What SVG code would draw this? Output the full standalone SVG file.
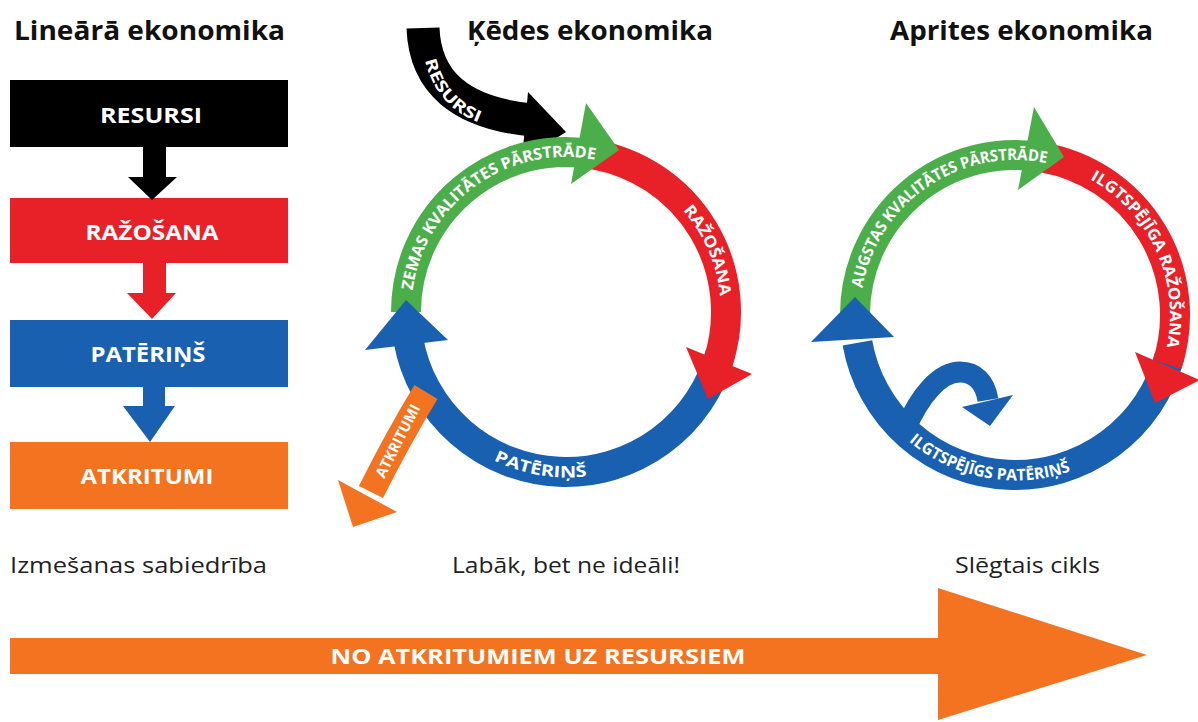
<svg xmlns="http://www.w3.org/2000/svg" xmlns:xlink="http://www.w3.org/1999/xlink" width="1198" height="722" viewBox="0 0 1198 722">
<style>
.t{font-family:"Open Sans","Liberation Sans",sans-serif;}
.title{font-size:27px;font-weight:700;fill:#111;}
.sub{font-size:21px;font-weight:400;fill:#222;}
.box{font-size:21px;font-weight:700;fill:#fff;text-anchor:middle;}
.ring{font-size:16px;font-weight:700;fill:#fff;}
.g{stroke:#4cae4a;}
.r{stroke:#e82129;}
.b{stroke:#1a60b0;}
.arc{fill:none;stroke-width:30;}
</style>
<defs>
<path id="mg" d="M 412.5 290.4 A 155 155 0 0 1 619 166.3"/>
<path id="mr" d="M 683 210.3 A 155 155 0 0 1 718.6 338.9"/>
<path id="mb" d="M 493.7 460.3 A 166 166 0 0 0 622.4 468"/>
<path id="rg" d="M 413.4 285.1 A 155 155 0 0 1 619 166.3"/>
<path id="rr" d="M 641.1 176.4 A 155 155 0 0 1 711.7 365"/>
<path id="rb" d="M 459.9 438.4 A 166 166 0 0 0 648.5 455.9"/>
<path id="res" d="M 425 60 Q 438 114 494 127"/>
</defs>
<rect width="1198" height="722" fill="#fff"/>

<g id="linear">
<text class="t title" x="14" y="40" textLength="271" lengthAdjust="spacingAndGlyphs">Lineārā ekonomika</text>
<g id="lin-resursi"><rect x="10" y="80" width="278" height="67" fill="#000"/><text class="t box" x="151" y="123" textLength="102" lengthAdjust="spacingAndGlyphs">RESURSI</text></g>
<g id="lin-razosana"><rect x="10" y="198" width="278" height="65" fill="#e82129"/><text class="t box" x="152" y="240" textLength="133" lengthAdjust="spacingAndGlyphs">RAŽOŠANA</text></g>
<g id="lin-pateri"><rect x="10" y="320" width="278" height="67" fill="#1a60b0"/><text class="t box" x="148" y="362" textLength="115" lengthAdjust="spacingAndGlyphs">PATĒRIŅŠ</text></g>
<g id="lin-atkritumi"><rect x="10" y="442" width="278" height="67" fill="#f37321"/><text class="t box" x="147" y="484" textLength="133" lengthAdjust="spacingAndGlyphs">ATKRITUMI</text></g>
<text class="t sub" x="10" y="573" textLength="257" lengthAdjust="spacingAndGlyphs">Izmešanas sabiedrība</text>
</g>

<g id="linear-connectors">
<polygon points="143,147 166,147 166,177 177,177 152,200 128,177 143,177" fill="#000"/>
<polygon points="143,263 166,263 166,293 176,293 152,319 127,293 143,293" fill="#e82129"/>
<polygon points="143,387 165,387 165,406 175,406 150,442 123,406 143,406" fill="#1a60b0"/>
</g>

<g id="chain">
<text class="t title" x="467" y="40" textLength="246" lengthAdjust="spacingAndGlyphs">Ķēdes ekonomika</text>
<g id="chain-resursi">
<path d="M 423 28 C 425 82 460 113 532 120" fill="none" stroke="#000" stroke-width="33"/>
<polygon points="528,92 566,132 522,160" fill="#000"/>
<text class="t" font-size="16" font-weight="700" fill="#fff"><textPath xlink:href="#res" textLength="86" lengthAdjust="spacingAndGlyphs">RESURSI</textPath></text>
</g>
<path class="arc b" d="M 720.5 353.4 A 160 160 0 0 1 408.4 339.8"/>
<path class="arc g" d="M 406 312 A 160 160 0 0 1 593.8 154.4"/>
<path class="arc r" d="M 593.8 154.4 A 160 160 0 0 1 718.2 361.4"/>
<g id="chain-atkritumi">
<path d="M 426 392 Q 398 438 371 492" fill="none" stroke="#f37321" stroke-width="27"/>
<polygon points="338,480 397,512 353,527" fill="#f37321"/>
<text class="t" x="398" y="446" font-size="15" font-weight="700" fill="#fff" text-anchor="middle" textLength="80" lengthAdjust="spacingAndGlyphs" transform="rotate(-63 398 441)">ATKRITUMI</text>
</g>
<polygon points="571,184 586,103 619,150" fill="#4cae4a"/>
<polygon points="686,347 752,374 708,399" fill="#e82129"/>
<polygon points="365,350 448,340 406,300" fill="#1a60b0"/>
<text class="t ring"><textPath xlink:href="#mg" textLength="251" lengthAdjust="spacingAndGlyphs">ZEMAS KVALITĀTES PĀRSTRĀDE</textPath></text>
<text class="t ring"><textPath xlink:href="#mr" textLength="95" lengthAdjust="spacingAndGlyphs">RAŽOŠANA</textPath></text>
<text class="t ring"><textPath xlink:href="#mb" textLength="96" lengthAdjust="spacingAndGlyphs">PATĒRIŅŠ</textPath></text>
<text class="t sub" x="452" y="573" textLength="228" lengthAdjust="spacingAndGlyphs">Labāk, bet ne ideāli!</text>
</g>

<g id="circular">
<text class="t title" x="890" y="40" textLength="263" lengthAdjust="spacingAndGlyphs">Aprites ekonomika</text>
<g transform="translate(449,3)">
<path class="arc b" d="M 720.5 353.4 A 160 160 0 0 1 408.4 339.8"/>
<path class="arc g" d="M 406 312 A 160 160 0 0 1 593.8 154.4"/>
<path class="arc r" d="M 593.8 154.4 A 160 160 0 0 1 718.2 361.4"/>
</g>
<path d="M 905 430 C 920 395 940 372 960 372 C 975 372 985 382 988 400" fill="none" stroke="#1a60b0" stroke-width="21"/>
<polygon points="962,407 1013,395 990,426" fill="#1a60b0"/>
<polygon points="1018,190 1034,107 1064,157" fill="#4cae4a"/>
<polygon points="1135,352 1200,380 1155,403" fill="#e82129"/>
<polygon points="811,342 894,337 855,297" fill="#1a60b0"/>
<g transform="translate(449,3)">
<text class="t ring"><textPath xlink:href="#rg" textLength="248" lengthAdjust="spacingAndGlyphs">AUGSTAS KVALITĀTES PĀRSTRĀDE</textPath></text>
<text class="t ring"><textPath xlink:href="#rr" textLength="197" lengthAdjust="spacingAndGlyphs">ILGTSPĒJĪGA RAŽOŠANA</textPath></text>
<text class="t ring" font-size="15"><textPath xlink:href="#rb" textLength="172" lengthAdjust="spacingAndGlyphs">ILGTSPĒJĪGS PATĒRIŅŠ</textPath></text>
</g>
<text class="t sub" x="955" y="573" textLength="145" lengthAdjust="spacingAndGlyphs">Slēgtais cikls</text>
</g>

<g id="bottom-arrow">
<polygon points="10,638 938,638 938,588 1147,655 938,720 938,674 10,674" fill="#f37321"/>
<text class="t" x="538" y="664" font-size="21" font-weight="700" fill="#fff" text-anchor="middle" textLength="415" lengthAdjust="spacingAndGlyphs">NO ATKRITUMIEM UZ RESURSIEM</text>
</g>
</svg>
